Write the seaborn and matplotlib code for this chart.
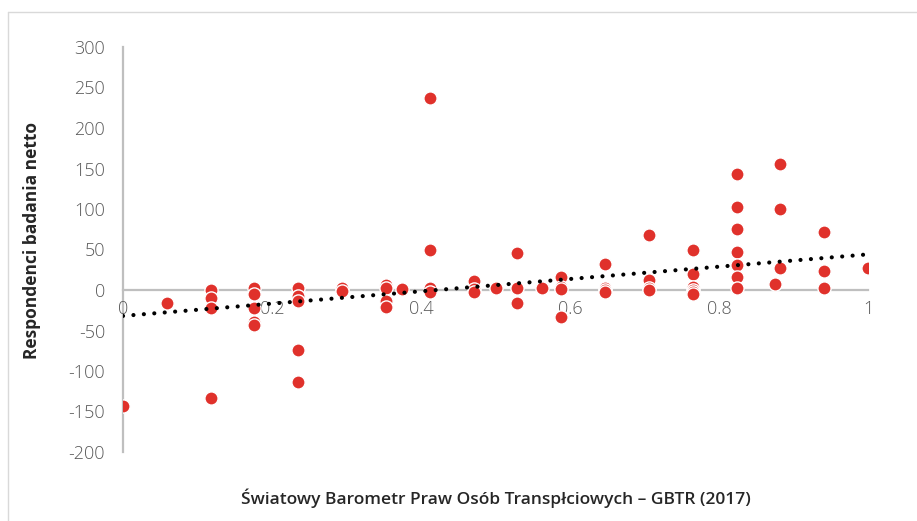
import numpy as np
import pandas as pd
import matplotlib
matplotlib.use("Agg")
import matplotlib.pyplot as plt
import seaborn as sns

# GBTR score (x) and net respondents (y)
gbtr = [0.0,
        0.0588,
        0.1176, 0.1176, 0.1176, 0.1176,
        0.1765, 0.1765, 0.1765, 0.1765, 0.1765,
        0.2353, 0.2353, 0.2353, 0.2353, 0.2353,
        0.2941, 0.2941,
        0.3529, 0.3529, 0.3529, 0.3529,
        0.375,
        0.4118, 0.4118, 0.4118, 0.4118,
        0.4706, 0.4706, 0.4706,
        0.5,
        0.5294, 0.5294, 0.5294,
        0.5625,
        0.5882, 0.5882, 0.5882, 0.5882,
        0.6471, 0.6471, 0.6471, 0.6471,
        0.7059, 0.7059, 0.7059, 0.7059,
        0.7647, 0.7647, 0.7647, 0.7647, 0.7647, 0.7647,
        0.8235, 0.8235, 0.8235, 0.8235, 0.8235, 0.8235, 0.8235,
        0.875,
        0.8824, 0.8824, 0.8824,
        0.9412, 0.9412, 0.9412,
        1.0]
respondents = [-143,
               -16,
               0, -10, -22, -133,
               2, -5, -22, -40, -43,
               2, -8, -14, -74, -114,
               2, -1,
               6, 2, -14, -21,
               1,
               237, 49, 2, -3,
               11, 1, -2,
               2,
               46, 2, -16,
               2,
               16, 4, 1, -33,
               32, 2, 0, -3,
               68, 12, 2, 0,
               49, 20, 4, 0, -2, -5,
               143, 102, 75, 47, 31, 16, 2,
               7,
               156, 100, 27,
               72, 23, 2,
               27]

# linear trend line (as shown in the chart)
trend_x = [0.0, 1.0]
trend_y = [-32, 44]

x_ticks = [0, 0.2, 0.4, 0.6, 0.8, 1]
x_tick_labels = ["0", "0.2", "0.4", "0.6", "0.8", "1"]
y_ticks = [-200, -150, -100, -50, 0, 50, 100, 150, 200, 250, 300]

df = pd.DataFrame({"gbtr": gbtr, "resp": respondents})
trend = pd.DataFrame({"x": trend_x, "y": trend_y})

sns.set_theme(style="white")
plt.rcParams["font.family"] = ["Open Sans", "DejaVu Sans"]

fig = plt.figure(figsize=(9.17, 5.21), dpi=100)
ax = fig.add_axes([123/917, 1 - 452/521, (868 - 123)/917, (452 - 47)/521])

sns.scatterplot(data=df, x="gbtr", y="resp", ax=ax, color="#E0312B",
                s=90, edgecolor="white", linewidth=1, zorder=2)
sns.lineplot(data=trend, x="x", y="y", ax=ax, color="black", linewidth=3,
             linestyle=(0, (0.01, 2.5)), dash_capstyle="round", zorder=3)

ax.set_xlim(0, 1)
ax.set_ylim(-200, 300)
ax.set_xticks(x_ticks)
ax.set_xticklabels(x_tick_labels)
ax.set_yticks(y_ticks)
ax.set_yticklabels([str(v) for v in y_ticks])

for s in ["top", "right"]:
    ax.spines[s].set_visible(False)
ax.spines["bottom"].set_position(("data", 0))
for s in ["left", "bottom"]:
    ax.spines[s].set_color("#BFBFBF")
    ax.spines[s].set_linewidth(1.6)
    ax.spines[s].set_zorder(0.5)

ax.tick_params(axis="both", length=0, labelsize=13, labelcolor="#595959")
ax.tick_params(axis="y", pad=13)
ax.tick_params(axis="x", pad=7)
for lab in ax.get_xticklabels() + ax.get_yticklabels():
    lab.set_fontweight("light")

ax.set_xlabel("")
ax.set_ylabel("Respondenci badania netto", fontsize=12.5, fontweight="bold",
              color="#262626")
ax.yaxis.set_label_coords(-0.110, 0.523)
fig.text(495.5/917, 1 - 498/521, "Światowy Barometr Praw Osób Transpłciowych – GBTR (2017)",
         ha="center", va="center", fontsize=12.5, fontweight="semibold", color="#262626")

# light frame lines (top & left) as in reference
fig.add_artist(plt.Line2D([8/917, 1], [1 - 12/521, 1 - 12/521], color="#D9D9D9", linewidth=1))
fig.add_artist(plt.Line2D([8/917, 8/917], [0, 1 - 12/521], color="#D9D9D9", linewidth=1))

fig.savefig("out.png", dpi=100)
